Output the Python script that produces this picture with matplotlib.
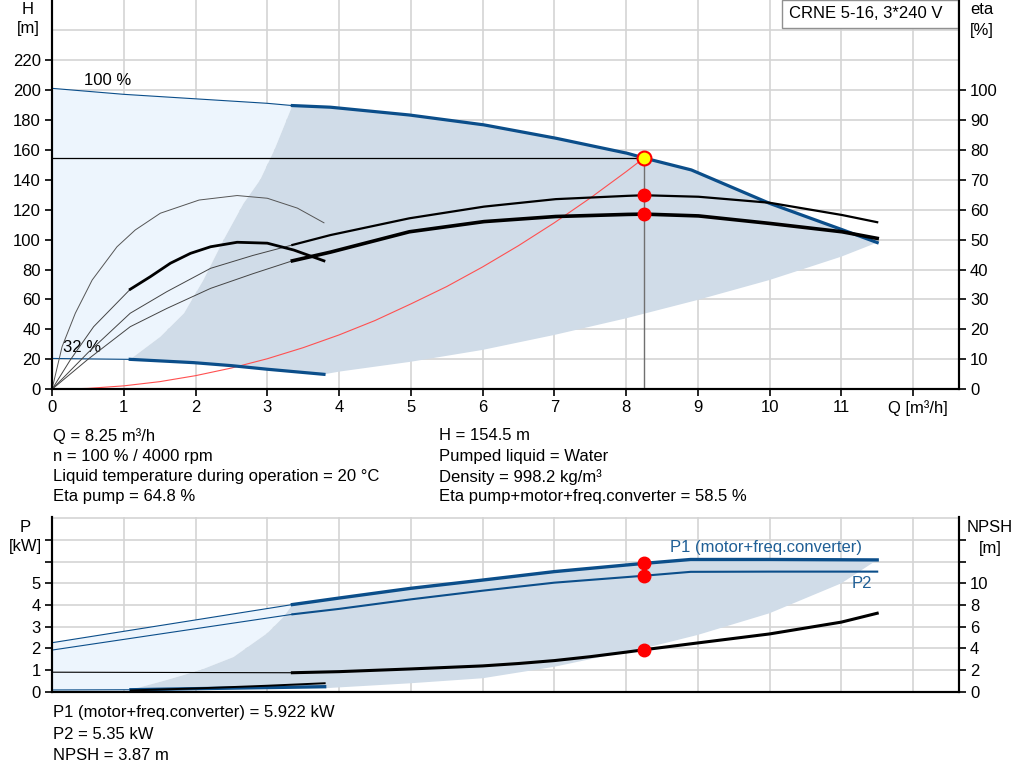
import matplotlib
matplotlib.use("Agg")
import matplotlib.pyplot as plt
from matplotlib.patches import Rectangle
import numpy as np

plt.rcParams['font.family'] = ['Liberation Sans', 'DejaVu Sans']
plt.rcParams['font.size'] = 12

BLUE = '#0b4e8a'
LIGHT = '#edf5fd'
DARK = '#d0dce8'
GRID = '#d4d4d4'
FS = 12

# ---- Q-H chart data ----
# 100 % speed curve (thin then thick part)
q_h100_thin = [0, 1, 2, 3, 3.35]
h_h100_thin = [201, 197, 194, 191, 189.5]
q_h100 = [3.35, 3.88, 4.98, 6.02, 7.02, 8.02, 8.25, 8.91, 10, 11, 11.5]
h_h100 = [189.5, 188.4, 183.2, 176.6, 167.7, 157.6, 154.5, 146.5, 124.2,
          106.8, 98]
# 32 % speed curve
q_hmin_thin = [0, 1.09]
h_hmin_thin = [20.6, 20.0]
q_hmin = [1.09, 1.975, 2.5, 3.0, 3.79]
h_hmin = [20.0, 17.8, 15.8, 13.4, 10.0]
# boundaries of the dark operating area
q_left = [1.09, 1.51, 1.84, 2.11, 2.39, 2.67, 2.9, 3.1, 3.35]
h_left = [20.0, 35.1, 50.8, 73, 99.7, 124.2, 139.8, 160, 189.5]
q_low = [3.79, 4, 5, 6, 7, 8, 9, 10, 10.36, 11, 11.5]
h_low = [10.0, 11.8, 18.4, 26.3, 36.3, 47.4, 59.7, 73, 78.6, 88.6, 98]
# system curve
q_sys = [0, 0.5, 1, 1.5, 2, 2.5, 3, 3.5, 4, 4.5, 5, 5.5, 6, 6.5, 7, 7.5,
         8, 8.25]
h_sys = [0, 0.6, 2.3, 5.1, 9.1, 14.2, 20.4, 27.8, 36.3, 45.9, 57.0, 68.6,
         81.7, 95.9, 111.2, 127.7, 145.3, 154.5]

# efficiency curves [%]
q_eta_thin = [0, 0.5, 1.09, 1.6, 2.21, 2.8, 3.35]
eta_pump_thin = [0, 12.2, 25.4, 32.6, 40.4, 44.7, 48.2]
eta_tot_thin = [0, 10, 20.9, 27, 33.7, 38.6, 42.9]
q_eta = [3.35, 3.88, 4.98, 6.02, 7.02, 8.02, 8.25, 9.01, 10, 11.01, 11.5]
eta_pump = [48.2, 51.5, 57.1, 61, 63.5, 64.6, 64.8, 64.3, 62.3, 58.2, 55.8]
eta_tot = [42.9, 45.8, 52.6, 56, 57.7, 58.4, 58.5, 57.9, 55.4, 52.6, 50.4]
q_eta_min = [0, 0.14, 0.325, 0.56, 0.906, 1.16, 1.51, 2.05, 2.58, 3.0,
             3.42, 3.79]
eta_pump_min = [0, 14.2, 25.4, 36.5, 47.6, 53.2, 58.8, 63.2, 64.7, 63.8,
                60.5, 55.6]
q_etat_min_thin = [0, 0.255, 0.58, 1.09]
etat_min_thin = [0, 9.8, 20.9, 33.4]
q_etat_min = [1.09, 1.37, 1.65, 1.93, 2.21, 2.58, 3.0, 3.37, 3.79]
etat_min = [33.4, 37.6, 42.1, 45.4, 47.6, 49.1, 48.8, 46.5, 42.9]

# duty point
q_duty = 8.25
h_duty = 154.5
eta_pump_duty = 64.8
eta_tot_duty = 58.5

# ---- power / NPSH chart data ----
q_p_thin = [0, 3.35]
p1_thin = [2.26, 4.02]
p2_thin = [1.92, 3.57]
q_p = [3.35, 4, 5, 6, 7, 8.25, 8.9, 10, 11.5]
p1 = [4.02, 4.32, 4.77, 5.15, 5.54, 5.92, 6.1, 6.1, 6.08]
p2 = [3.57, 3.82, 4.26, 4.66, 5.03, 5.35, 5.53, 5.54, 5.54]
q_pmin_thin = [0, 1.1]
p_pmin_thin = [0.08, 0.09]
q_pmin = [1.1, 2, 3, 3.8]
p_pmin = [0.09, 0.14, 0.19, 0.23]
q_pleft = [1.1, 1.6, 2.07, 2.53, 3.0, 3.23, 3.35]
p_pleft = [0.09, 0.54, 1.0, 1.6, 2.7, 3.46, 4.02]
q_plow = [3.8, 5, 6, 7, 8, 8.25, 9, 10, 11, 11.5]
p_plow = [0.16, 0.39, 0.62, 1.15, 1.85, 2.0, 2.62, 3.62, 5.0, 6.08]
q_npsh_thin = [0, 3.35]
npsh_thin = [1.8, 1.75]
q_npsh = [3.35, 4, 5, 6, 6.5, 7, 7.5, 8, 8.25, 9, 10, 11, 11.5]
npsh = [1.75, 1.85, 2.1, 2.38, 2.6, 2.87, 3.23, 3.65, 3.87, 4.5, 5.33,
        6.42, 7.24]
q_npsh_min = [1.1, 2, 3, 3.8]
npsh_min = [0.12, 0.3, 0.55, 0.78]
p1_duty = 5.922
p2_duty = 5.35
npsh_duty = 3.87

fig = plt.figure(figsize=(10.24, 7.81), dpi=100)
x0 = 52 / 1024
w = (959 - 52) / 1024
ax = fig.add_axes([x0, 1 - 389.3 / 781, w, 389.3 / 781])
axe = ax.twinx()
axp = fig.add_axes([x0, 1 - 691.7 / 781, w, (691.7 - 517) / 781])
axn = axp.twinx()


def style(a, b):
    a.spines['top'].set_visible(False)
    b.spines['top'].set_visible(False)
    for s in ['left', 'right', 'bottom']:
        a.spines[s].set_linewidth(1.5)
        b.spines[s].set_linewidth(1.5)
    a.set_xlim(0, 12.64)
    a.grid(True, color=GRID, lw=1.2)
    a.set_axisbelow(True)
    a.tick_params(direction='out', length=5, width=1.2, labelsize=FS, pad=3)
    b.tick_params(direction='out', length=5, width=1.2, labelsize=FS, pad=3)


style(ax, axe)
style(axp, axn)

# ---------- top chart ----------
ax.set_ylim(0, 260)
axe.set_ylim(0, 130)
ax.set_yticks(np.arange(0, 260, 20))
ax.set_yticklabels([str(v) if v <= 220 else '' for v in range(0, 260, 20)])
ax.yaxis.get_major_ticks()[-1].tick1line.set_visible(False)
axe.set_yticks(np.arange(0, 101, 10))
ax.set_xticks(np.arange(0, 13, 1))
ax.set_xticklabels([str(v) for v in range(12)] + [''])

# fills
ax.fill(q_h100_thin + q_left[::-1] + q_hmin_thin[::-1],
        h_h100_thin + h_left[::-1] + h_hmin_thin[::-1],
        color=LIGHT, lw=0, zorder=1)
ax.fill(q_h100 + q_low[::-1] + q_hmin[::-1] + q_left,
        h_h100 + h_low[::-1] + h_hmin[::-1] + h_left,
        color=DARK, lw=0, zorder=1.1)

ax.plot(q_sys, h_sys, color='#ff5050', lw=0.8, zorder=3)
ax.plot([0, q_duty], [h_duty, h_duty], color='black', lw=0.9, zorder=3)
ax.plot([q_duty, q_duty], [0, h_duty], color='#707070', lw=1.0, zorder=3)
ax.plot(q_h100_thin, h_h100_thin, color=BLUE, lw=0.8, zorder=3)
ax.plot(q_h100, h_h100, color=BLUE, lw=2.3, zorder=3)
ax.plot(q_hmin_thin, h_hmin_thin, color=BLUE, lw=0.8, zorder=3)
ax.plot(q_hmin, h_hmin, color=BLUE, lw=2.3, zorder=3)

axe.plot(q_eta_thin, eta_pump_thin, color='#444444', lw=0.7)
axe.plot(q_eta_thin, eta_tot_thin, color='#444444', lw=0.7)
axe.plot(q_eta, eta_pump, color='black', lw=1.6)
axe.plot(q_eta, eta_tot, color='black', lw=2.6)
axe.plot(q_eta_min, eta_pump_min, color='#555555', lw=0.7)
axe.plot(q_etat_min_thin, etat_min_thin, color='#444444', lw=0.7)
axe.plot(q_etat_min, etat_min, color='black', lw=2.0)
axe.plot([q_duty, q_duty], [eta_pump_duty, eta_tot_duty], 'o', color='red',
         ms=9, zorder=5)
axe.plot([q_duty], [h_duty / 2], 'o', mfc='yellow', mec='red', mew=1.5,
         ms=10, zorder=6)

ax.text(0.44, 206, '100 %', fontsize=FS, va='center')
ax.text(0.16, 28, '32 %', fontsize=FS, va='center')

ax.add_patch(Rectangle(((782 - 52) / 907, 1 - 28 / 389.3), (958 - 782) / 907,
                       28 / 389.3, transform=ax.transAxes, fc='white',
                       ec='#909090', lw=1.0, clip_on=False, zorder=10))
ax.text((789 - 52) / 907, 1 - 14 / 389.3, 'CRNE 5-16, 3*240 V', fontsize=FS,
        transform=ax.transAxes, va='center', zorder=11)

fig.text(28 / 1024, 1 - 9 / 781, 'H', ha='center', va='center', fontsize=FS)
fig.text(28 / 1024, 1 - 29 / 781, '[m]', ha='center', va='center', fontsize=FS)
fig.text(982 / 1024, 1 - 10 / 781, 'eta', ha='center', va='center', fontsize=FS)
fig.text(982 / 1024, 1 - 30 / 781, '[%]', ha='center', va='center', fontsize=FS)
fig.text(918 / 1024, 1 - 408 / 781, 'Q [m³/h]', ha='center', va='center',
         fontsize=FS)

left_info = ['Q = 8.25 m³/h', 'n = 100 % / 4000 rpm',
             'Liquid temperature during operation = 20 °C',
             'Eta pump = 64.8 %']
right_info = ['H = 154.5 m', 'Pumped liquid = Water',
              'Density = 998.2 kg/m³',
              'Eta pump+motor+freq.converter = 58.5 %']
for i, (lt, rt) in enumerate(zip(left_info, right_info)):
    y = 1 - (436 + i * 20.3) / 781
    fig.text(53 / 1024, y, lt, va='center', fontsize=FS)
    fig.text(439 / 1024, y, rt, va='center', fontsize=FS)

# ---------- bottom chart ----------
axp.set_ylim(0, 8.06)
axn.set_ylim(0, 16.12)
axp.set_yticks(np.arange(0, 9, 1))
axp.set_yticklabels([str(v) if v <= 5 else '' for v in range(9)])
axp.yaxis.get_major_ticks()[-1].tick1line.set_visible(False)
axn.set_yticks(np.arange(0, 15, 2))
axn.set_yticklabels([str(v) if v <= 10 else '' for v in range(0, 15, 2)])
axp.set_xticks(np.arange(0, 13, 1))
axp.tick_params(axis='x', length=0, labelbottom=False)

axp.fill(q_p_thin + q_pleft[::-1] + q_pmin_thin[::-1],
         p1_thin + p_pleft[::-1] + p_pmin_thin[::-1],
         color=LIGHT, lw=0, zorder=1)
axp.fill(q_p + q_plow[::-1] + q_pmin[::-1] + q_pleft,
         p1 + p_plow[::-1] + p_pmin[::-1] + p_pleft,
         color=DARK, lw=0, zorder=1.1)

axp.plot(q_p_thin, p1_thin, color=BLUE, lw=0.8, zorder=3)
axp.plot(q_p_thin, p2_thin, color=BLUE, lw=0.8, zorder=3)
axp.plot(q_p, p1, color=BLUE, lw=2.4, zorder=3)
axp.plot(q_p, p2, color=BLUE, lw=1.5, zorder=3)
axp.plot(q_pmin_thin, p_pmin_thin, color=BLUE, lw=0.8, zorder=3)
axp.plot(q_pmin, p_pmin, color=BLUE, lw=2.4, zorder=3)
axp.text(8.61, 6.63, 'P1 (motor+freq.converter)', color='#1f5f96',
         fontsize=FS, va='center')
axp.text(11.15, 4.97, 'P2', color='#1f5f96', fontsize=FS, va='center')

axn.plot(q_npsh_thin, npsh_thin, color='black', lw=0.8)
axn.plot(q_npsh, npsh, color='black', lw=2.2)
axn.plot(q_npsh_min, npsh_min, color='black', lw=1.4)
axp.plot([q_duty, q_duty], [p1_duty, p2_duty], 'o', color='red', ms=9,
         zorder=5)
axn.plot([q_duty], [npsh_duty], 'o', color='red', ms=9, zorder=5)

fig.text(25 / 1024, 1 - 527 / 781, 'P', ha='center', va='center', fontsize=FS)
fig.text(25 / 1024, 1 - 547 / 781, '[kW]', ha='center', va='center',
         fontsize=FS)
fig.text(990 / 1024, 1 - 527 / 781, 'NPSH', ha='center', va='center',
         fontsize=FS)
fig.text(990 / 1024, 1 - 548 / 781, '[m]', ha='center', va='center',
         fontsize=FS)

bottom_info = ['P1 (motor+freq.converter) = 5.922 kW', 'P2 = 5.35 kW',
               'NPSH = 3.87 m']
for i, t in enumerate(bottom_info):
    fig.text(53 / 1024, 1 - (713 + i * 21.5) / 781, t, va='center',
             fontsize=FS)

fig.savefig('out.png', dpi=100)
